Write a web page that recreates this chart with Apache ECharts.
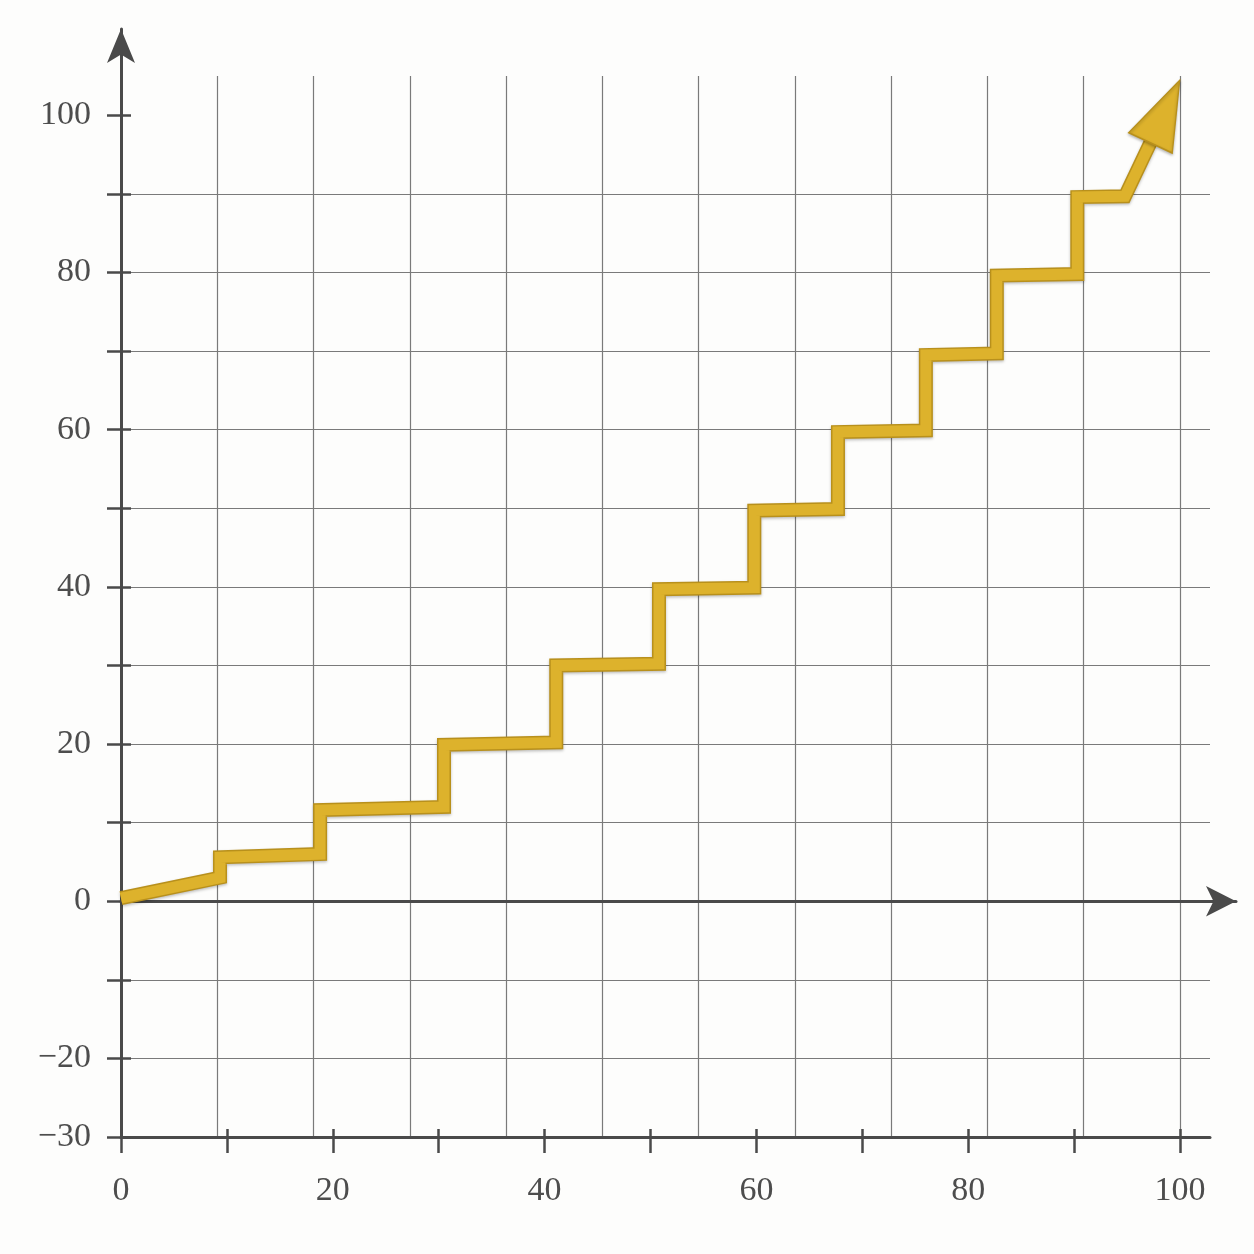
<!DOCTYPE html>
<html>
<head>
<meta charset="utf-8">
<script src="https://cdn.jsdelivr.net/npm/echarts@6/dist/echarts.min.js"></script>
<style>
html,body{margin:0;padding:0;background:#fdfdfc;}
#c{width:1254px;height:1254px;}
</style>
</head>
<body>
<div id="c"></div>
<script>
// ---- data ----
const stepX = [0, 9.35, 9.35, 18.8, 18.8, 30.5, 30.5, 41.1, 41.1, 50.8, 50.8, 59.8, 59.8, 67.7, 67.7, 76.0, 76.0, 82.7, 82.7, 90.3, 90.3, 94.8, 97.2];
const stepY = [0.4, 3.0, 5.6, 6.0, 11.6, 12.0, 19.9, 20.2, 30.0, 30.2, 39.7, 39.9, 49.7, 49.9, 59.7, 59.9, 69.5, 69.7, 79.6, 79.8, 89.6, 89.7, 96.5];
const xTickValues = [0, 10, 20, 30, 40, 50, 60, 70, 80, 90, 100];
const xLabelValues = [0, 20, 40, 60, 80, 100];
const yTickValues = [-30, -20, -10, 0, 10, 20, 30, 40, 50, 60, 70, 80, 90, 100];
const yLabelValues = [-30, -20, 0, 20, 40, 60, 80, 100];
const gridColumns = 11;

// ---- chart ----
const chart = echarts.init(document.getElementById('c'), null, {renderer: 'canvas'});
const axisColor = '#4a4a4a';
const gridColor = '#7a7a7a';
const gold = '#DDB22C';
const goldDark = '#B8901C';
const labelFont = {fontFamily: 'Liberation Serif', fontSize: 34, color: '#4d4d4d'};
const fmt = v => String(v).replace('-', '\u2212');
const points = stepX.map((x, i) => [x, stepY[i]]);
const last = points[points.length - 1];

const option = {
  animation: false,
  backgroundColor: '#fdfdfc',
  grid: [
    {left: 121, right: 44, top: 76, bottom: 117},
    {left: 121, width: 10, top: 29, bottom: 117},
    {left: 121, right: 18, top: 76, bottom: 117}
  ],
  xAxis: [
    {
      gridIndex: 0, type: 'value', min: 0, max: 102.83, position: 'bottom',
      axisLine: {show: true, onZero: false, lineStyle: {color: axisColor, width: 3}},
      axisTick: {show: true, customValues: xTickValues, length: 16, lineStyle: {color: axisColor, width: 2.5}},
      axisLabel: Object.assign({show: true, customValues: xLabelValues, margin: 37, formatter: fmt}, labelFont),
      splitLine: {show: false}
    },
    {
      gridIndex: 0, type: 'value', min: 0, max: 102.83, position: 'bottom',
      axisLine: {show: false, onZero: false},
      axisTick: {show: true, inside: true, customValues: xTickValues, length: 8, lineStyle: {color: axisColor, width: 2.5}},
      axisLabel: {show: false},
      splitLine: {show: false}
    },
    {
      gridIndex: 0, type: 'value', min: 0, max: gridColumns * 1089 / 1059, interval: 1, position: 'top',
      axisLine: {show: false, onZero: false},
      axisTick: {show: false},
      axisLabel: {show: false},
      splitLine: {show: true, showMinLine: false, showMaxLine: false, lineStyle: {color: gridColor, width: 1.2}}
    },
    {gridIndex: 1, type: 'value', min: 0, max: 1, show: false},
    {
      gridIndex: 2, type: 'value', min: 0, max: 1, position: 'bottom',
      axisLine: {show: true, onZero: true, symbol: ['none', 'arrow'], symbolSize: [23, 30], lineStyle: {color: axisColor, width: 3}},
      axisTick: {show: false}, axisLabel: {show: false}, splitLine: {show: false}
    }
  ],
  yAxis: [
    {
      gridIndex: 0, type: 'value', min: -30, max: 105, interval: 10, position: 'left',
      axisLine: {show: false, onZero: false},
      axisTick: {show: true, customValues: yTickValues, length: 14, lineStyle: {color: axisColor, width: 2.5}},
      axisLabel: Object.assign({show: true, customValues: yLabelValues, margin: 30, formatter: fmt}, labelFont),
      splitLine: {show: true, showMaxLine: false, lineStyle: {color: gridColor, width: 1.2}}
    },
    {
      gridIndex: 0, type: 'value', min: -30, max: 105, interval: 10, position: 'left',
      axisLine: {show: false, onZero: false},
      axisTick: {show: true, inside: true, customValues: yTickValues, length: 10, lineStyle: {color: axisColor, width: 2.5}},
      axisLabel: {show: false},
      splitLine: {show: false}
    },
    {
      gridIndex: 1, type: 'value', min: 0, max: 1, position: 'left',
      axisLine: {show: true, onZero: false, symbol: ['none', 'arrow'], symbolSize: [21, 34], lineStyle: {color: axisColor, width: 3}},
      axisTick: {show: false}, axisLabel: {show: false}, splitLine: {show: false}
    },
    {gridIndex: 2, type: 'value', min: -30, max: 105, show: false}
  ],
  series: [
    {
      type: 'line', xAxisIndex: 0, yAxisIndex: 0, data: points, symbol: 'none', clip: false, silent: true, z: 5,
      lineStyle: {color: goldDark, width: 14, join: 'miter', cap: 'butt',
        shadowColor: 'rgba(0,0,0,0.25)', shadowBlur: 3, shadowOffsetY: 1.5}
    },
    {
      type: 'line', xAxisIndex: 0, yAxisIndex: 0, data: points, symbol: 'none', clip: false, silent: true, z: 6,
      lineStyle: {color: gold, width: 11, join: 'miter', cap: 'butt'}
    },
    {
      type: 'scatter', xAxisIndex: 0, yAxisIndex: 0, data: [last], clip: false, silent: true, z: 7,
      symbol: 'triangle', symbolSize: [48, 69], symbolRotate: -25, symbolOffset: [14.7, -31.2],
      itemStyle: {color: gold, opacity: 1, borderColor: goldDark, borderWidth: 1.5,
        shadowColor: 'rgba(0,0,0,0.25)', shadowBlur: 3, shadowOffsetY: 1.5}
    }
  ]
};
chart.setOption(option);
</script>
</body>
</html>
